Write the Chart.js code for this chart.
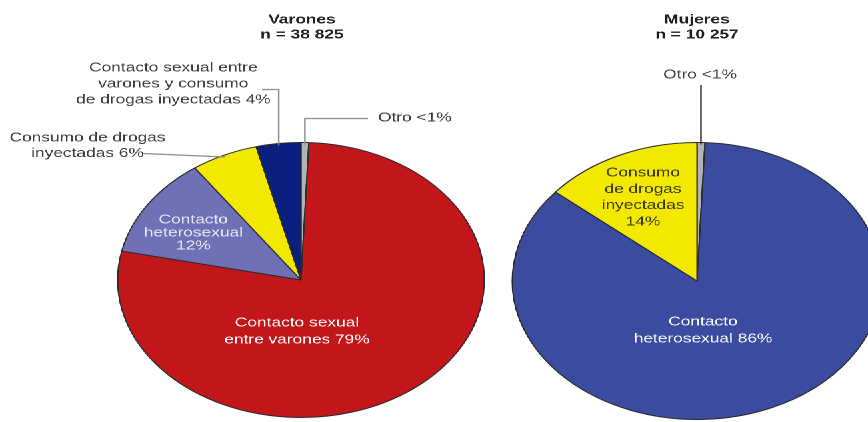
<!DOCTYPE html>
<html lang="es">
<head>
<meta charset="utf-8">
<title>Categorías de transmisión: varones y mujeres</title>
<script src="https://cdn.jsdelivr.net/npm/chart.js@4.4.1/dist/chart.umd.min.js"></script>
<style>
  html, body { margin: 0; padding: 0; background: #fff; overflow: hidden; }
  /* the original figure is stretched horizontally (ellipses + wide text) */
  #stage { position: absolute; left: 0; top: 0; width: 651px; height: 422px;
           transform: scaleX(1.33333); transform-origin: 0 0; }
  #varones { position: absolute; left: 0; top: 0; }
  #mujeres { position: absolute; left: 370px; top: 0; }
</style>
</head>
<body>
<div id="stage">
  <canvas id="varones" width="370" height="422"></canvas>
  <canvas id="mujeres" width="300" height="422"></canvas>
</div>
<script>
// Datos (porcentajes)
const varonesTitulo = ['Varones', 'n = 38 825'];
const varonesCategorias = ['Otro', 'Contacto sexual entre varones', 'Contacto heterosexual',
  'Consumo de drogas inyectadas', 'Contacto sexual entre varones y consumo de drogas inyectadas'];
const varonesValores = [0.7, 79, 12, 6, 4];
const varonesTextos = [
  ['Otro <1%'],
  ['Contacto sexual', 'entre varones 79%'],
  ['Contacto', 'heterosexual', '12%'],
  ['Consumo de drogas', 'inyectadas 6%'],
  ['Contacto sexual entre', 'varones y consumo', 'de drogas inyectadas 4%']
];

const mujeresTitulo = ['Mujeres', 'n = 10 257'];
const mujeresCategorias = ['Otro', 'Contacto heterosexual', 'Consumo de drogas inyectadas'];
const mujeresValores = [0.7, 86, 14];
const mujeresTextos = [
  ['Otro <1%'],
  ['Contacto', 'heterosexual 86%'],
  ['Consumo', 'de drogas', 'inyectadas', '14%']
];

const FONT = '"Liberation Sans", Arial, sans-serif';

// dibuja título, etiquetas y líneas guía
const etiquetas = {
  id: 'etiquetas',
  afterDraw(chart, args, opts) {
    const ctx = chart.ctx;
    const arcs = chart.getDatasetMeta(0).data;
    ctx.save();
    ctx.textAlign = 'center';
    ctx.textBaseline = 'middle';
    ctx.fillStyle = '#1e1e1e';
    ctx.font = 'bold 13px ' + FONT;
    opts.titulo.forEach((t, i) => ctx.fillText(t, opts.tituloX, 20 + i * 15));

    ctx.font = '13px ' + FONT;
    opts.sitios.forEach((s, i) => {
      const arc = arcs[i];
      const g = s.guia;
      if (g) {
        const mid = (arc.startAngle + arc.endAngle) / 2;
        const r = arc.outerRadius - 2;
        const px = arc.x + Math.cos(mid) * r;
        const py = arc.y + Math.sin(mid) * r;
        ctx.strokeStyle = g.color || '#8c8c8c';
        ctx.lineWidth = 1.2;
        ctx.beginPath();
        ctx.moveTo(px, py);
        if (g.recta) {
          ctx.lineTo(g.x, g.y);
        } else {
          ctx.lineTo(px, g.y);
          if (g.x !== undefined) ctx.lineTo(g.x, g.y);
        }
        ctx.stroke();
      }
      ctx.fillStyle = s.color;
      ctx.textAlign = s.align || 'center';
      opts.textos[i].forEach((t, k) => ctx.fillText(t, s.x, s.y + k * (s.paso || 16)));
    });
    ctx.restore();
  }
};

function opciones(padding, pluginOpts) {
  return {
    responsive: false,
    devicePixelRatio: 2,
    animation: false,
    layout: { padding: padding },
    plugins: {
      legend: { display: false },
      tooltip: { enabled: false },
      etiquetas: pluginOpts
    }
  };
}

new Chart(document.getElementById('varones'), {
  type: 'pie',
  data: {
    labels: varonesCategorias,
    datasets: [{
      data: varonesValores,
      backgroundColor: ['#b3b3b3', '#c3161b', '#6f70b6', '#f3e900', '#0b1f80'],
      borderColor: '#2b2b2b',
      borderWidth: 1
    }]
  },
  options: opciones({ left: 87.75, right: 6.25, top: 142, bottom: 4 }, {
    titulo: varonesTitulo,
    tituloX: 226.5,
    textos: varonesTextos,
    sitios: [
      { x: 283.5, y: 118, align: 'left', color: '#3a3a3a', guia: { y: 118.5, x: 276 } },
      { x: 222.75, y: 323, paso: 17, color: '#ffffff' },
      { x: 145, y: 220, paso: 13, color: '#ececf8' },
      { x: 65.6, y: 138, paso: 15.5, color: '#3a3a3a', guia: { recta: true, x: 107, y: 153.5 } },
      { x: 130, y: 68, paso: 16, color: '#3a3a3a', guia: { y: 89.5, x: 196.5 } }
    ]
  }),
  plugins: [etiquetas]
});

new Chart(document.getElementById('mujeres'), {
  type: 'pie',
  data: {
    labels: mujeresCategorias,
    datasets: [{
      data: mujeresValores,
      backgroundColor: ['#b3b3b3', '#3b4ba0', '#f3e900'],
      borderColor: '#2b2b2b',
      borderWidth: 1
    }]
  },
  options: opciones({ left: 13.75, right: 8.25, top: 142, bottom: 2 }, {
    titulo: mujeresTitulo,
    tituloX: 152.75,
    textos: mujeresTextos,
    sitios: [
      { x: 155, y: 75, color: '#3a3a3a', guia: { y: 85, color: '#2a2a2a' } },
      { x: 157.25, y: 322, paso: 17, color: '#ffffff' },
      { x: 112.25, y: 173, paso: 16.3, color: '#3a3a10' }
    ]
  }),
  plugins: [etiquetas]
});
</script>
</body>
</html>
